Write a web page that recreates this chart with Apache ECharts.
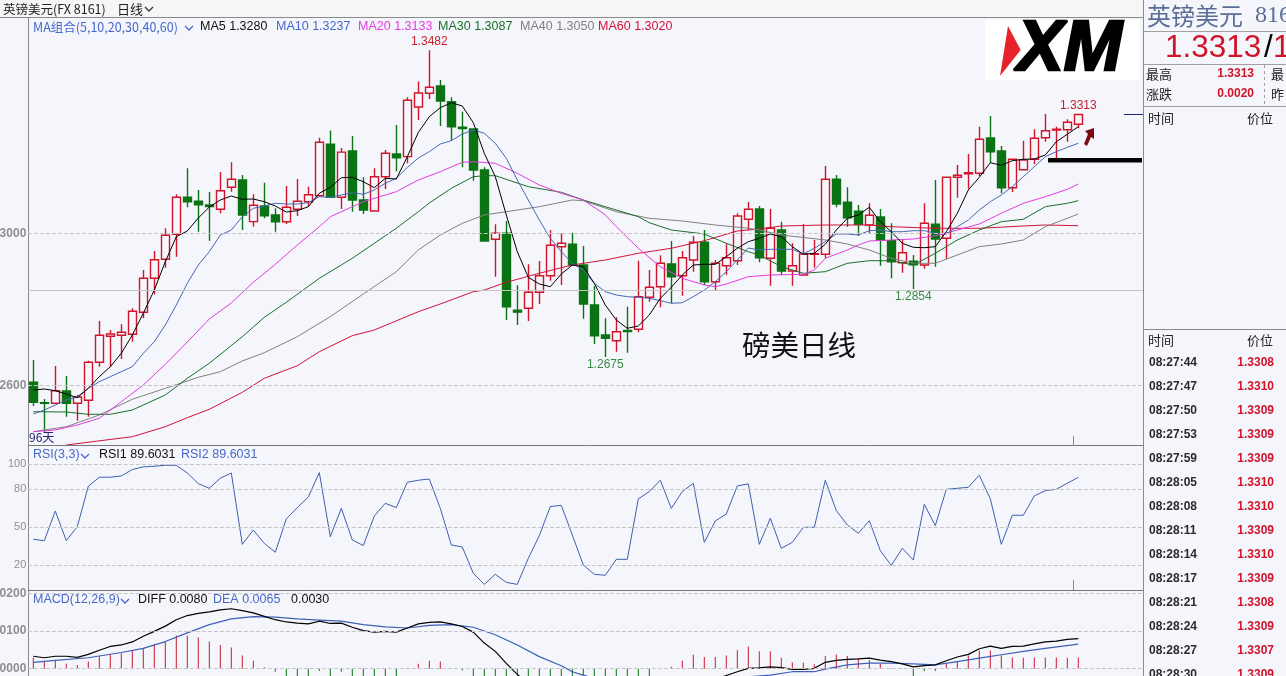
<!DOCTYPE html>
<html>
<head>
<meta charset="utf-8">
<style>html,body{margin:0;padding:0;background:#f5f6fb;overflow:hidden}#main{width:1286px;height:676px}</style>
<script src="https://cdn.jsdelivr.net/npm/echarts@6/dist/echarts.min.js"></script>
</head>
<body>
<div id="main"></div>
<script>
// daily candles
const opens = [1.26084,1.2555,1.25532,1.25855,1.25532,1.2561,1.2661,1.27295,1.27321,1.27347,1.27926,1.28821,1.29321,1.29979,1.30953,1.30847,1.3075,1.30637,1.31216,1.31408,1.30312,1.30724,1.30487,1.3031,1.30637,1.30837,1.30995,1.3235,1.30953,1.32171,1.30882,1.30592,1.31495,1.32092,1.32024,1.33329,1.33689,1.33882,1.33468,1.328,1.3275,1.31671,1.29847,1.30005,1.2798,1.28032,1.28453,1.28889,1.29653,1.29716,1.29171,1.28118,1.27329,1.27179,1.2745,1.27479,1.28321,1.286,1.29197,1.28889,1.29303,1.29768,1.28732,1.29153,1.29284,1.30374,1.30645,1.29347,1.30092,1.29013,1.28908,1.29455,1.29453,1.31426,1.30821,1.30584,1.30224,1.30434,1.2981,1.29232,1.29268,1.29171,1.30242,1.29874,1.31479,1.3157,1.31584,1.32513,1.32171,1.31205,1.31679,1.31953,1.32521,1.32724,1.32732,1.32874];
const closes = [1.25558,1.2553,1.25863,1.25532,1.25697,1.2661,1.27321,1.27355,1.274,1.27953,1.28821,1.29311,1.29953,1.30953,1.30837,1.30758,1.3071,1.31126,1.31426,1.30487,1.30742,1.30468,1.3031,1.30689,1.30847,1.31021,1.32403,1.30953,1.32142,1.30882,1.30618,1.31495,1.32111,1.31995,1.33505,1.33697,1.33847,1.33487,1.32811,1.32765,1.31671,1.29803,1.30005,1.28074,1.2793,1.28453,1.28889,1.2969,1.29742,1.29171,1.28145,1.27311,1.27242,1.27416,1.2742,1.28337,1.28584,1.29216,1.28863,1.29363,1.29768,1.28732,1.29216,1.29363,1.30461,1.30637,1.29363,1.30137,1.29013,1.29153,1.29461,1.2947,1.31426,1.30776,1.30416,1.30242,1.30479,1.29829,1.29258,1.29495,1.29179,1.30268,1.29855,1.31479,1.31532,1.316,1.32479,1.32153,1.31205,1.31953,1.31934,1.32505,1.32705,1.32742,1.32926,1.3313];
const lows = [1.25461,1.24784,1.2553,1.2518,1.25074,1.2518,1.26495,1.26495,1.26697,1.27153,1.27768,1.284,1.291,1.2939,1.30689,1.30047,1.2981,1.3053,1.311,1.30092,1.30179,1.304,1.30047,1.3025,1.30461,1.30705,1.30968,1.3095,1.30645,1.30574,1.30513,1.30574,1.31171,1.3164,1.31848,1.32987,1.33539,1.32829,1.32442,1.31742,1.31389,1.29784,1.28863,1.27724,1.27592,1.27697,1.28145,1.28758,1.28645,1.2917,1.27758,1.27092,1.2675,1.26889,1.26863,1.274,1.28205,1.28058,1.28163,1.28363,1.28995,1.28645,1.28495,1.28908,1.29171,1.30092,1.29242,1.28626,1.28908,1.28626,1.28908,1.291,1.29347,1.30689,1.30179,1.29934,1.30005,1.29153,1.28821,1.28968,1.2854,1.29074,1.29126,1.2932,1.30942,1.31179,1.31513,1.31863,1.31058,1.31092,1.3167,1.31829,1.32416,1.31934,1.32416,1.32768];
const highs = [1.26671,1.25645,1.26513,1.2625,1.2575,1.26653,1.27697,1.27461,1.2761,1.2803,1.2904,1.29539,1.30137,1.31032,1.31716,1.31145,1.3109,1.31618,1.31874,1.31539,1.31032,1.31337,1.30663,1.3125,1.31434,1.31232,1.32518,1.3271,1.32247,1.32566,1.31479,1.31716,1.32197,1.32855,1.33584,1.34,1.3482,1.3404,1.33584,1.33205,1.3276,1.31742,1.30242,1.30329,1.28637,1.29189,1.29276,1.30092,1.30005,1.30021,1.29671,1.28618,1.27768,1.27795,1.28074,1.29284,1.2904,1.29426,1.29803,1.29539,1.29934,1.30092,1.29303,1.29742,1.30532,1.30829,1.30724,1.30645,1.30311,1.29742,1.3025,1.29829,1.31776,1.31539,1.31216,1.3075,1.30795,1.30645,1.30268,1.29855,1.29434,1.30795,1.31408,1.31479,1.31803,1.32092,1.32811,1.33092,1.32303,1.3196,1.32442,1.32742,1.33145,1.32811,1.33005,1.3313];

// moving averages, one value per candle for the fast two
const ma5 = [1.25882,1.25908,1.25863,1.25776,1.25679,1.25926,1.26232,1.26495,1.26847,1.27329,1.279,1.28513,1.29258,1.29916,1.30066,1.30408,1.30697,1.30882,1.30987,1.309,1.30908,1.30837,1.30724,1.30566,1.306,1.30705,1.31058,1.31216,1.31468,1.31479,1.31363,1.31205,1.31453,1.31434,1.32021,1.32658,1.33074,1.33311,1.33442,1.33355,1.32916,1.32111,1.31495,1.30487,1.29521,1.28847,1.28671,1.286,1.28934,1.29171,1.29126,1.28689,1.28118,1.27724,1.27505,1.27566,1.27855,1.28295,1.28584,1.28908,1.29171,1.29189,1.29189,1.29389,1.29611,1.29784,1.29874,1.29987,1.29916,1.29653,1.29453,1.29479,1.29716,1.30092,1.304,1.30487,1.30689,1.30311,1.30047,1.29742,1.29637,1.29626,1.29653,1.30047,1.30532,1.31145,1.31479,1.31863,1.31795,1.31916,1.31953,1.31961,1.32066,1.32416,1.32611,1.32811];
const ma10 = [1.2525,1.25355,1.25487,1.25618,1.25705,1.25926,1.261,1.26232,1.26363,1.26495,1.26847,1.27153,1.27592,1.28118,1.28689,1.29171,1.29521,1.29961,1.30092,1.30442,1.30663,1.30724,1.30795,1.30776,1.30776,1.30811,1.30968,1.30953,1.31013,1.31074,1.31032,1.31145,1.31321,1.31453,1.31737,1.31987,1.32153,1.32355,1.32442,1.32618,1.32724,1.32637,1.32374,1.31979,1.31408,1.30882,1.30355,1.29874,1.29521,1.29216,1.29039,1.28689,1.28468,1.28382,1.28337,1.28321,1.28295,1.28232,1.28163,1.28179,1.28337,1.28513,1.28732,1.28995,1.29303,1.29618,1.29566,1.29584,1.29584,1.29584,1.29461,1.29611,1.29784,1.29987,1.29987,1.29961,1.30074,1.30092,1.30047,1.30047,1.30074,1.30074,1.30005,1.29987,1.30179,1.30355,1.30618,1.30837,1.31013,1.31232,1.31495,1.31758,1.32021,1.32153,1.32268,1.32374];
// slower averages, [candle, value] at the points read
const ma20 = [[0,1.24784],[2,1.24829],[4,1.24961],[6,1.25137],[8,1.25574],[10,1.26013],[12,1.26558],[14,1.27145],[16,1.2775],[18,1.28171],[20,1.28716],[22,1.29189],[24,1.29697],[26,1.30179],[27,1.30442],[30,1.30837],[33,1.311],[35,1.31408],[37,1.31626],[39,1.31874],[40,1.31889],[42,1.31847],[44,1.31584],[46,1.31276],[48,1.31058],[50,1.30882],[52,1.30492],[53,1.30179],[55,1.29611],[57,1.29126],[59,1.28821],[61,1.28645],[62,1.286],[63,1.28671],[65,1.28863],[67,1.28908],[70,1.28926],[71,1.29039],[72,1.29347],[74,1.29566],[75,1.29697],[76,1.29803],[78,1.29829],[80,1.29855],[82,1.29942],[84,1.30092],[86,1.3025],[88,1.30532],[90,1.30795],[92,1.30968],[94,1.31163],[95,1.31303]];
const ma30 = [[0,1.2531],[3,1.25303],[5,1.25242],[7,1.25242],[9,1.25355],[12,1.2575],[14,1.26189],[16,1.26584],[19,1.27284],[21,1.27795],[23,1.28189],[26,1.28821],[29,1.29347],[31,1.29742],[33,1.30137],[35,1.30574],[36,1.30803],[38,1.31189],[40,1.31495],[41,1.31521],[42,1.31521],[45,1.31232],[48,1.31084],[50,1.30882],[52,1.30705],[55,1.30442],[56,1.30284],[58,1.30092],[61,1.29987],[63,1.29742],[65,1.29521],[66,1.29434],[68,1.29126],[70,1.28953],[72,1.28995],[74,1.29216],[76,1.29284],[78,1.29284],[80,1.29171],[82,1.29479],[84,1.29829],[86,1.30092],[88,1.30311],[90,1.30374],[92,1.30705],[94,1.30795],[95,1.30863]];
const ma40 = [[0,1.24784],[3,1.24916],[6,1.25224],[9,1.25637],[12,1.25926],[15,1.26216],[17,1.26363],[19,1.26645],[21,1.26863],[24,1.27284],[27,1.27811],[30,1.28408],[33,1.28995],[35,1.29566],[37,1.29961],[39,1.30268],[41,1.30487],[43,1.30574],[46,1.30705],[49,1.30882],[50,1.30863],[53,1.30574],[56,1.304],[59,1.30329],[62,1.30224],[65,1.30137],[66,1.30092],[68,1.29961],[72,1.29829],[74,1.29724],[76,1.29566],[78,1.29347],[80,1.29216],[82,1.29216],[84,1.29434],[86,1.29653],[88,1.29724],[90,1.29829],[92,1.30179],[94,1.304],[95,1.30513]];
const ma60 = [[3,1.24434],[9,1.24653],[12,1.24916],[14,1.25153],[16,1.25374],[19,1.25821],[21,1.26189],[24,1.26521],[26,1.26889],[29,1.27311],[31,1.27461],[35,1.27942],[37,1.28145],[40,1.28468],[41,1.28513],[43,1.28716],[46,1.28953],[49,1.29171],[52,1.29303],[55,1.29479],[58,1.29611],[61,1.29811],[64,1.30066],[66,1.30118],[68,1.30197],[72,1.30224],[76,1.30224],[78,1.30179],[82,1.30137],[86,1.30137],[90,1.30197],[92,1.30224],[95,1.30205]];

const rsi = [40.4,39.3,62.9,39.3,50.5,82.5,89.7,89.7,90.7,95.8,97.9,98.4,99.2,99.2,93.1,84.6,80.9,88.9,93.1,36.4,47.8,37.2,30.1,56.6,65.6,74,93.4,42.5,65,39.9,35.4,58.9,69,65.6,85.7,87.3,88.3,65,35.9,34.3,13.4,4.6,12.6,6.2,4.6,25.3,43.3,66.4,67.4,43.8,20,12.6,11.8,24.5,24.5,72.5,78.3,87.3,65,78.3,84.9,38,55,60.5,82.8,84.4,36.4,57.1,33.2,38,49.9,49.9,87.3,63.2,51.8,45.2,55.2,31.4,19.7,33.2,24,68.2,51.3,80.1,80.9,81.7,91.3,72.5,36.4,59.5,59.5,74.8,79.1,80.1,84.9,89.6];

// part of MACD runs off the bottom of the picture, those are guesses
const diff = [.0033,.0029,.0033,.0033,.003,.0038,.0049,.0059,.0063,.0071,.0086,.0099,.0113,.013,.0141,.0147,.0151,.0156,.0159,.0154,.0148,.0139,.013,.0124,.0121,.0119,.0126,.012,.0121,.011,.0101,.0097,.0099,.0097,.0108,.0119,.0123,.0124,.0119,.0112,.0097,.0068,.0046,.0014,-.0015,-.004,-.0055,-.0065,-.0072,-.0072,-.007,-.0074,-.0082,-.0086,-.0085,-.0078,-.007,-.006,-.0052,-.0042,-.0032,-.003,-.0028,-.0018,-.0008,.0001,.0002,.0005,.0003,-.0002,-.0002,.0001,.0017,.0022,.0025,.0026,.0028,.0023,.0019,.0013,.0005,.0008,.001,.0021,.0031,.0038,.0053,.006,.0054,.0059,.006,.0066,.0071,.0073,.0078,.008];
const dea = [[0,.0017],[2,.0022],[5,.0029],[8,.0043],[10,.0054],[12,.0072],[14,.0095],[16,.0117],[18,.0132],[20,.0138],[22,.0137],[24,.0132],[26,.0129],[28,.0126],[30,.0117],[32,.0111],[34,.0108],[36,.0115],[38,.0117],[40,.011],[42,.009],[44,.0063],[46,.0032],[48,.0008],[49,-.0008],[50,-.0017],[52,-.0035],[54,-.0048],[56,-.0048],[58,-.0045],[60,-.0038],[63,-.0026],[67,-.0017],[69,-.0008],[71,-.0008],[72,-.0001],[74,.001],[76,.0015],[78,.0015],[80,.0013],[82,.001],[84,.0019],[86,.0028],[88,.0037],[90,.0046],[92,.0054],[95,.0065]];
const macd = [.0029,.0021,.0023,.0013,.001,.0019,.0033,.0038,.0041,.0047,.0054,.0065,.0072,.0088,.0088,.0083,.0072,.0063,.0056,.0035,.0021,.0004,-.0008,-.002,-.002,-.002,-.0006,-.002,-.0008,-.002,-.002,-.002,-.002,-.002,.0001,.0013,.0021,.0019,.0001,-.0005,-.0026,-.005,-.0088,-.012,-.0156,-.017,-.0175,-.017,-.016,-.0128,-.0106,-.009,-.0094,-.0085,-.0074,-.006,-.0046,-.0001,.0005,.0021,.0037,.0031,.0031,.0035,.0049,.0059,.0046,.0046,.0029,.0017,.0016,.0012,.0034,.0038,.0034,.0028,.0023,.0013,.0001,-.0001,-.002,-.0006,-.0006,.0014,.0019,.0035,.0048,.0048,.0035,.003,.0029,.003,.003,.003,.0029,.003];

// six spare slots after the last candle, the axis is hidden
const days = Array.from({ length: 102 }, (_, i) => i);

const priceTicks = [1.26, 1.3];
const priceLabels = ['2600', '3000'];
const rsiTicks = [20, 50, 80, 100];
const rsiLabels = ['20', '50', '80', '100'];
const macdTicks = [0, 0.01, 0.02];
const macdLabels = ['0000', '0100', '0200'];

const tickTimes = ['08:27:44','08:27:47','08:27:50','08:27:53','08:27:59','08:28:05','08:28:08','08:28:11','08:28:14','08:28:17','08:28:21','08:28:24','08:28:27','08:28:30'];
const tickPrices = ['1.3308','1.3310','1.3309','1.3309','1.3309','1.3310','1.3310','1.3309','1.3310','1.3309','1.3308','1.3309','1.3307','1.3309'];

const bg = '#f5f6fb';
const red = '#d0142a';
const green = '#0a7314';
const blue = '#4668c8';
const cjk = '"Noto Sans CJK SC","Noto Sans",sans-serif';
const latin = '"Liberation Sans",Arial,sans-serif';

const myChart = echarts.init(document.getElementById('main'));

function txt(x, y, text, fill, font, align, extra) {
  return { type: 'text', z: 110, silent: true, x, y, style: Object.assign({ text, fill, font, align: align || 'left', verticalAlign: 'middle' }, extra) };
}
function box(x, y, width, height, fill) {
  return { type: 'rect', z: 100, silent: true, shape: { x, y, width, height }, style: { fill } };
}
function line(x1, y1, x2, y2, stroke, lineDash, z) {
  return { type: 'line', z: z || 105, silent: true, shape: { x1, y1, x2, y2 }, style: { stroke, lineWidth: 1, lineDash: lineDash || null } };
}
function chevron(x, y, color) {
  return { type: 'polyline', z: 110, silent: true, shape: { points: [[x, y], [x + 4, y + 4], [x + 8, y]] }, style: { stroke: color, fill: null, lineWidth: 1.3 } };
}
function poly(points, fill) {
  return { type: 'polygon', z: 110, silent: true, shape: { points }, style: { fill } };
}

function maLine(name, data, color, xIndex, yIndex) {
  return { name, type: 'line', data, xAxisIndex: xIndex || 0, yAxisIndex: yIndex || 0, showSymbol: false, symbol: 'none', silent: true, lineStyle: { color, width: 1 } };
}
function levels(values, solid) {
  return {
    silent: true, symbol: 'none', precision: 6, label: { show: false },
    lineStyle: { color: '#c6c6c6', width: 1, type: 'dashed' },
    data: values.map((v) => ({ yAxis: v }))
      .concat((solid || []).map((v) => ({ yAxis: v, lineStyle: { type: 'solid', color: '#c4c4c4' } }))),
  };
}
// high and low notes: an invisible dot carrying the label
function priceNote(i, value, color, pos) {
  return {
    coord: [i, value], symbol: 'circle', symbolSize: 1, itemStyle: { color: 'transparent' },
    label: { show: true, position: pos, distance: pos === 'top' ? 2 : 1, formatter: value.toFixed(4), color, fontSize: 12, fontFamily: latin },
  };
}
function yAxisFor(index, min, max, ticks, labels, fontSize, fontWeight) {
  return {
    type: 'value', gridIndex: index, min, max, scale: true,
    axisLine: { show: true, lineStyle: { color: '#8a8a8a' } },
    axisTick: { show: false }, splitLine: { show: false },
    axisLabel: {
      customValues: ticks, margin: 1.5, color: '#8f8f8f', fontSize, fontWeight, fontFamily: latin,
      formatter: (v) => labels[ticks.findIndex((t) => Math.abs(t - v) < 1e-6)],
    },
  };
}
function xAxisFor(index) {
  return { type: 'category', gridIndex: index, data: days, boundaryGap: true, axisLine: { show: false }, axisTick: { show: false }, axisLabel: { show: false }, splitLine: { show: false } };
}

const option = {
  backgroundColor: bg,
  animation: false,
  grid: [
    { left: 27.8, top: 18, width: 1122, height: 428, outerBoundsMode: 'none' },
    { left: 27.8, top: 446, width: 1122, height: 144, outerBoundsMode: 'none' },
    { left: 27.8, top: 590, width: 1122, height: 100, outerBoundsMode: 'none' },
  ],
  xAxis: [xAxisFor(0), xAxisFor(1), xAxisFor(2)],
  yAxis: [
    yAxisFor(0, 1.24408, 1.35671, priceTicks, priceLabels, 12, 'bold'),
    yAxisFor(1, 0.14, 114.5, rsiTicks, rsiLabels, 11, 'normal'),
    yAxisFor(2, -0.00565, 0.02088, macdTicks, macdLabels, 12, 'bold'),
  ],
  series: [
    {
      name: 'K', type: 'candlestick', barWidth: 9, silent: true,
      data: opens.map((o, i) => [o, closes[i], lows[i], highs[i]]),
      itemStyle: { color: bg, color0: green, borderColor: red, borderColor0: green, borderWidth: 1.4 },
      markLine: levels(priceTicks, [1.285]),
      markPoint: {
        silent: true,
        data: [
          priceNote(36, 1.3482, '#c8202f', 'top'),
          priceNote(52, 1.2675, '#3d8a44', 'bottom'),
          priceNote(80, 1.2854, '#3d8a44', 'bottom'),
          priceNote(95, 1.3313, '#c8202f', 'top'),
        ],
      },
    },
    maLine('MA60', ma60, '#d0123a'),
    maLine('MA40', ma40, '#808080'),
    maLine('MA30', ma30, '#1b6e2a'),
    maLine('MA20', ma20, '#e23be0'),
    maLine('MA10', ma10, '#4668b8'),
    maLine('MA5', ma5, '#000000'),
    Object.assign(maLine('RSI', rsi, '#3f5fb0', 1, 1), { markLine: levels(rsiTicks) }),
    {
      name: 'MACD', type: 'bar', xAxisIndex: 2, yAxisIndex: 2, barWidth: 1, silent: true,
      data: macd.map((v) => ({ value: v, itemStyle: { color: v >= 0 ? '#c8182c' : green } })),
      markLine: levels(macdTicks),
    },
    Object.assign(maLine('DEA', dea, '#3f5fb8', 2, 2), { lineStyle: { color: '#3f5fb8', width: 1.2 } }),
    Object.assign(maLine('DIFF', diff, '#000000', 2, 2), { lineStyle: { color: '#000000', width: 1.2 } }),
  ],
  graphic: {
    elements: [
      // top bar and pane separators
      box(0, 0, 1143, 17, '#f6f6f6'),
      line(0, 17.5, 1143, 17.5, '#8a8a8a'),
      line(28, 445.5, 1143, 445.5, '#777777', null, 50),
      line(28, 590.5, 1143, 590.5, '#777777', null, 50),
      line(1073.5, 436, 1073.5, 446, '#8a8a8a', null, 50),
      line(1073.5, 580, 1073.5, 590, '#8a8a8a', null, 50),
      txt(3, 9, '英镑美元(FX 8161)', '#222222', '12.5px ' + cjk),
      txt(117, 9, '日线', '#222222', '13px ' + cjk),
      chevron(145, 7, '#333333'),

      // legends
      txt(33, 27, 'MA组合(5,10,20,30,40,60)', blue, '12.5px ' + cjk),
      chevron(185, 26, blue),
      txt(200, 27, 'MA5 1.3280', '#111111', '12.5px ' + latin),
      txt(276, 27, 'MA10 1.3237', blue, '12.5px ' + latin),
      txt(358, 27, 'MA20 1.3133', '#e23be0', '12.5px ' + latin),
      txt(438, 27, 'MA30 1.3087', '#1b6e2a', '12.5px ' + latin),
      txt(520, 27, 'MA40 1.3050', '#808080', '12.5px ' + latin),
      txt(598, 27, 'MA60 1.3020', '#d0123a', '12.5px ' + latin),
      txt(29, 437, '96天', '#22226e', '12px ' + cjk),
      txt(33, 455, 'RSI(3,3)', blue, '12.5px ' + latin),
      chevron(81, 454, blue),
      txt(99, 455, 'RSI1 89.6031', '#111111', '12.5px ' + latin),
      txt(181, 455, 'RSI2 89.6031', blue, '12.5px ' + latin),
      txt(33, 600, 'MACD(12,26,9)', blue, '12.5px ' + latin),
      chevron(121, 599, blue),
      txt(138, 600, 'DIFF 0.0080', '#111111', '12.5px ' + latin),
      txt(213, 600, 'DEA 0.0065', blue, '12.5px ' + latin),
      txt(291, 600, '0.0030', '#111111', '12.5px ' + latin),

      // annotations on the chart
      txt(742, 345, '磅美日线', '#111111', '28.5px ' + cjk),
      box(1048, 158, 94, 4.5, '#000000'),
      poly([[1094, 128], [1085, 131], [1088, 134], [1084, 144], [1087, 146], [1091, 137], [1094, 139]], '#7a0a14'),
      line(1124, 114.5, 1143, 114.5, '#22227a'),

      // logo
      box(985, 20, 155, 60, '#ffffff'),
      poly([[1008, 26], [1020.7, 50], [1000, 76]], '#e8222c'),
      txt(1017, 51, 'XM', '#000000', 'italic 900 70px ' + latin, 'left', { stroke: '#000000', lineWidth: 2.5 }),

      // right panel
      box(1143, 0, 143, 676, bg),
      line(1143.5, 0, 1143.5, 676, '#8a8a8a'),
      line(1143, 31.5, 1286, 31.5, '#a0a0a0'),
      line(1143, 64.5, 1286, 64.5, '#a0a0a0'),
      line(1143, 106.5, 1286, 106.5, '#a0a0a0'),
      line(1143, 329.5, 1286, 329.5, '#8a8a8a'),
      line(1264.5, 65, 1264.5, 106, '#a0a0a0', [3, 3]),
      txt(1147, 16, '英镑美元', '#5b6f96', '24px ' + cjk),
      txt(1255, 16, '816', '#5b6f96', '24px "Liberation Serif",serif'),
      txt(1165, 48, '1.3313', red, '31.5px ' + latin),
      txt(1264, 48, '/', '#000000', '31.5px ' + latin),
      txt(1273, 48, '1', red, '31.5px ' + latin),
      txt(1146, 74, '最高', '#222222', '13px ' + cjk),
      txt(1254, 74, '1.3313', red, 'bold 12px ' + latin, 'right'),
      txt(1271, 74, '最', '#222222', '13px ' + cjk),
      txt(1146, 94, '涨跌', '#222222', '13px ' + cjk),
      txt(1254, 94, '0.0020', red, 'bold 12px ' + latin, 'right'),
      txt(1271, 94, '昨', '#222222', '13px ' + cjk),
      txt(1148, 118, '时间', '#222222', '13px ' + cjk),
      txt(1273, 118, '价位', '#222222', '13px ' + cjk, 'right'),
      txt(1148, 340, '时间', '#222222', '13px ' + cjk),
      txt(1273, 340, '价位', '#222222', '13px ' + cjk, 'right'),
      ...tickTimes.map((t, i) => txt(1149, 363 + i * 24, t, '#2a2a2a', 'bold 12px ' + latin)),
      ...tickPrices.map((p, i) => txt(1274, 363 + i * 24, p, red, 'bold 12px ' + latin, 'right')),
    ],
  },
};

myChart.setOption(option);
</script>
</body>
</html>
